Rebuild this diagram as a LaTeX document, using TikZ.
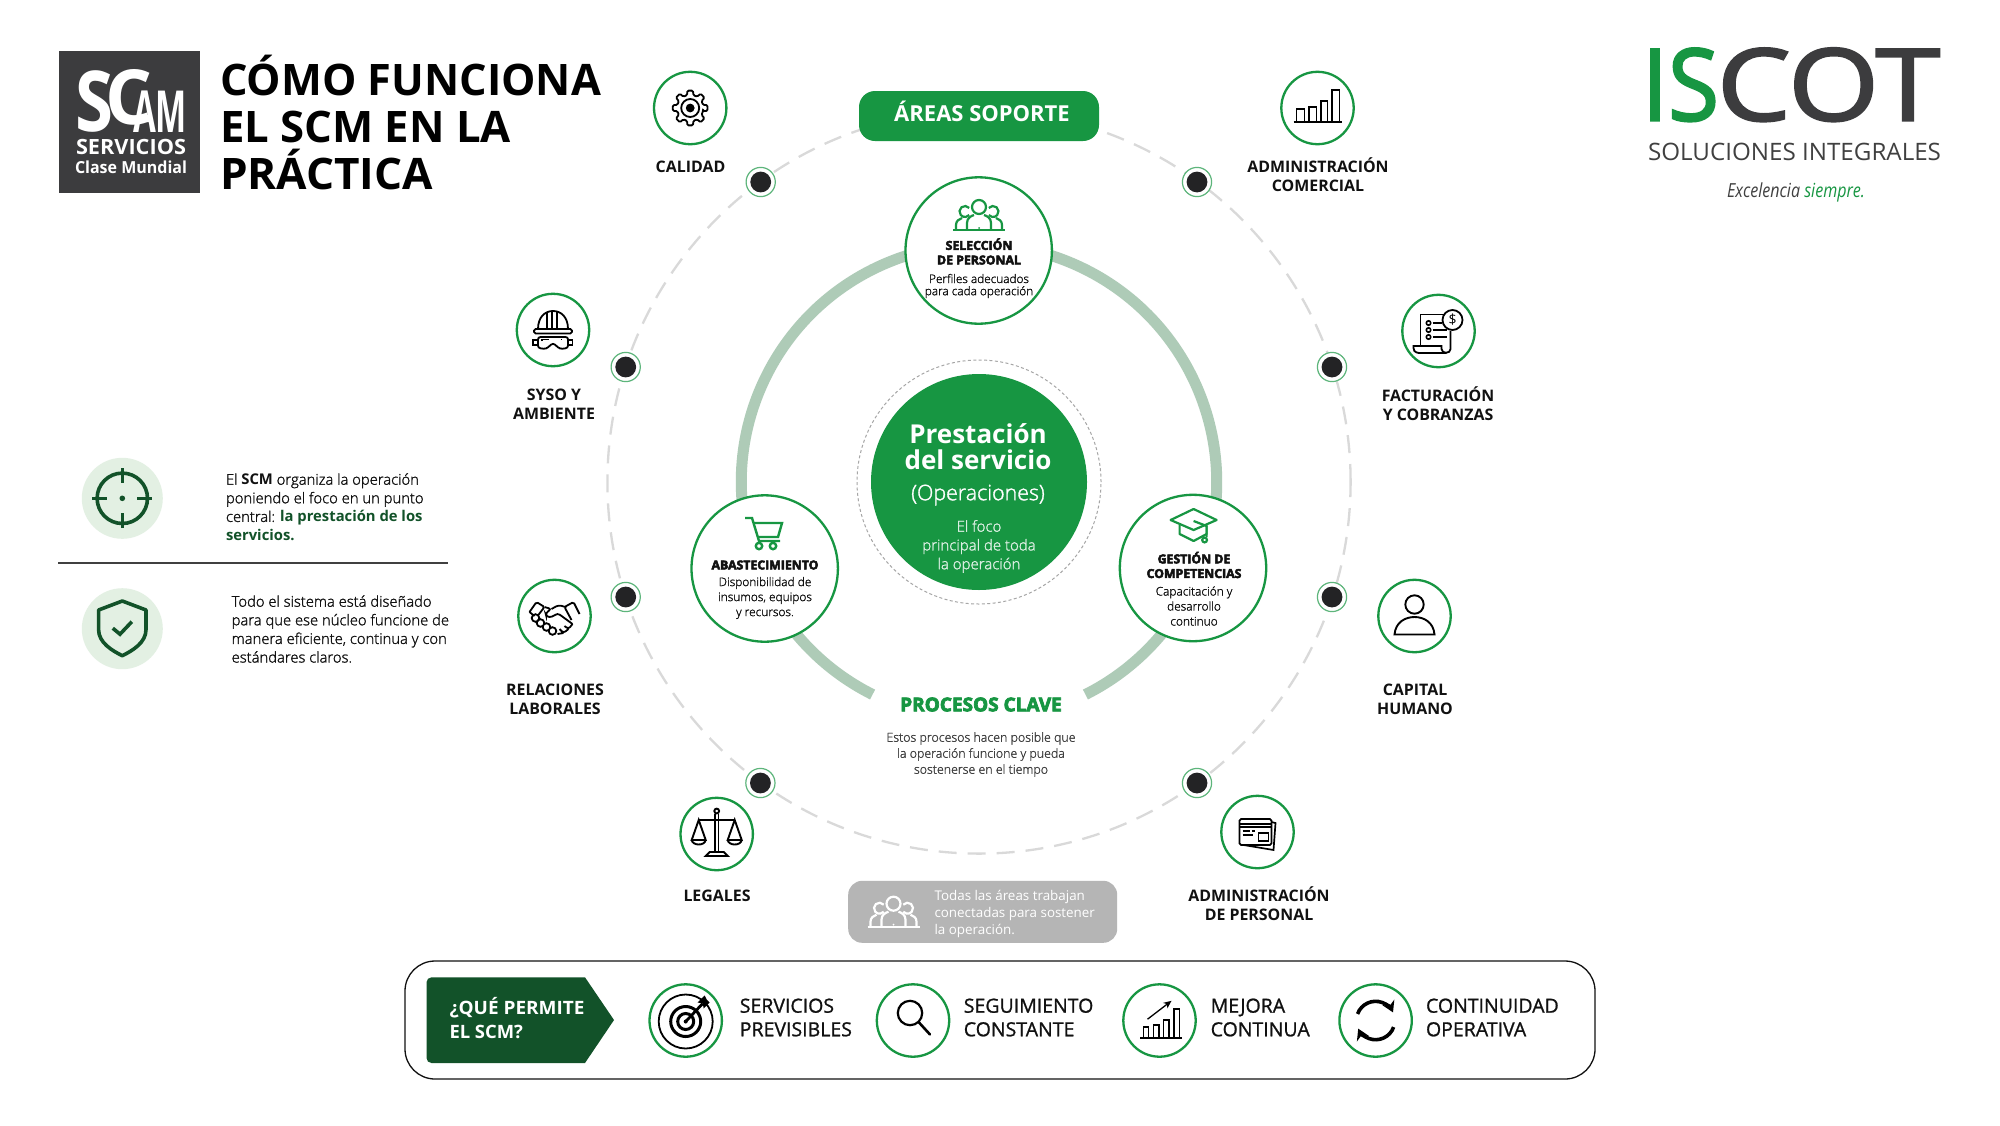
\documentclass[tikz,border=0pt]{standalone}
\usepackage{fontspec}
\setmainfont{Open Sans}
\newfontfamily\regf{Open Sans}
\newfontfamily\lightf{Open Sans Light}[UprightFeatures={FakeBold=1.5}]
\newfontfamily\heavyf{Open Sans}[UprightFont={* Bold},UprightFeatures={FakeBold=4}]
\newfontfamily\logof{Open Sans}[UprightFeatures={FakeBold=2.2}]
\newfontfamily\medf{Open Sans}[UprightFeatures={FakeBold=1}]
\usetikzlibrary{arrows.meta,calc}
\definecolor{G}{HTML}{179642}
\definecolor{DG}{HTML}{125229}
\definecolor{ring}{HTML}{AECBB7}
\definecolor{palebg}{HTML}{E3F0E3}
\definecolor{dashc}{HTML}{D9D9D9}
\definecolor{ink}{HTML}{111111}
\definecolor{soft}{HTML}{404040}
\definecolor{logobg}{HTML}{3C3C3E}
\definecolor{dotc}{HTML}{232325}
\newcommand\fz[2]{\fontsize{#1}{#2}\selectfont}
\newsavebox\fitbox
\newcommand\fitw[2]{\sbox\fitbox{#2}\pgfmathsetmacro\fitr{(#1*0.5pt)/\wd\fitbox}\scalebox{\fitr}[1]{\usebox\fitbox}}
\tikzset{
  lw/.style={line width=#1*0.5pt},
  txt/.style={inner sep=0pt,outer sep=0pt,align=center,text=ink},
  lab/.style={txt,font=\bfseries\fz{7.95}{9.6}},
  iconc/.style={circle,draw=G,lw=2.3,fill=white,minimum size=36.2pt,inner sep=0pt},
  proc/.style={circle,draw=G,lw=2.3,fill=white,minimum size=73.2pt,inner sep=0pt},
  dotn/.style={circle,draw=G!70,lw=1.2,fill=white,minimum size=14.6pt,inner sep=0pt},
  core/.style={circle,fill=dotc,minimum size=10.4pt,inner sep=0pt},
  ptitle/.style={txt,font=\heavyf\fz{6.15}{7.3}},
  pbody/.style={txt,font=\lightf\fz{5.95}{7.5},text=ink},
  blab/.style={txt,align=left,anchor=west,font=\medf\fz{9.75}{11.8}},
  side/.style={txt,align=left,anchor=west,font=\lightf\fz{7.4}{9.3}},
  pics/people/.style={code={
    \draw[lw=2.2] (-26,15)--(26,15);
    \draw[lw=2.2] (0,-8) circle[radius=3.5pt];
    \draw[lw=2.2] (-14,-3.5) ++(40:2.75pt) arc[start angle=40,end angle=320,radius=2.75pt];
    \draw[lw=2.2] (14,-3.5) ++(140:2.75pt) arc[start angle=140,end angle=-140,radius=2.75pt];
    \draw[lw=2.2] (-23,15)--(-23,10) .. controls (-23,6) and (-20,4) .. (-17,3);
    \draw[lw=2.2] (23,15)--(23,10) .. controls (23,6) and (20,4) .. (17,3);
    \draw[lw=2.2] (-12,15)--(-12,8) .. controls (-12,3) and (-8,1) .. (-5,0);
    \draw[lw=2.2] (12,15)--(12,8) .. controls (12,3) and (8,1) .. (5,0);
    \fill (0,13) circle[radius=0.5pt];
  }},
  pics/gear/.style={code={
    \draw[lw=1.8,rounded corners=0.6pt] (-14:6.6pt)
      \foreach \a in {0,45,...,315}{ -- (\a-14:6.6pt) -- (\a-9:8.8pt) -- (\a+9:8.8pt) -- (\a+14:6.6pt)} -- cycle;
    \draw[lw=1.8] (0,0) circle[radius=4.5pt];
    \fill (0,0) circle[radius=2.2pt];
  }},
  pics/hat/.style={code={
    \draw[lw=1.8] (-15,-1) .. controls (-15,-13) and (-8,-19) .. (0,-19) .. controls (8,-19) and (15,-13) .. (15,-1);
    \draw[lw=1.8,rounded corners=0.8pt] (-19,-1) rectangle (19,3.5);
    \draw[lw=1.8] (-6,-1)--(-6,-18) (-1,-1)--(-1,-19) (4,-1)--(4,-19);
    \draw[lw=1.8,rounded corners=1.2pt] (-15,7)--(15,7)--(15,18)--(7,19)--(0,13)--(-7,19)--(-15,18)--cycle;
    \draw[lw=1.8] (-15,10)--(-20,10)--(-20,15)--(-15,15) (15,10)--(19.5,10)--(19.5,15)--(15,15);
    \draw[lw=1.4] (-11,11)--(-11,9.5)--(-4,9.5) (8,9.5)--(9,9.5);
  }},
  pics/shake/.style={code={
    \draw[lw=1.8,rounded corners=0.8pt] (-25,-4)--(-18,-14)--(-10,-9)--(-17,0);
    \draw[lw=1.8,rounded corners=0.8pt] (25,-2)--(19,-14)--(10,-9)--(17,4);
    \draw[lw=1.8,rounded corners=1.5pt] (-25,-4)--(-20,0);
    \draw[lw=1.8,rounded corners=1.5pt] (-10,-9)--(-3,-7)--(-9,-3)--(-8,1)--(-2,1)--(3,-3)--(18,8);
    \draw[lw=1.8,rounded corners=1.5pt] (-3,-7)--(4,-11)--(11,-9);
    \draw[lw=1.8,rounded corners=1.2pt] (18,8)--(14,13)--(10,10) (14,13)--(9,17)--(5,13) (9,17)--(3,18);
    \draw[lw=1.8] (-19,2) circle[radius=1.9pt] (-14,7) circle[radius=1.9pt] (-8,11) circle[radius=1.9pt] (-2,15) circle[radius=1.9pt];
  }},
  pics/barsa/.style={code={
    \draw[lw=1.7] (-24,14)--(24,14);
    \draw[lw=1.6] (-21,14)--(-21,1)--(-13,1)--(-13,14);
    \draw[lw=1.6] (-8.5,14)--(-8.5,-1)--(-1,-1)--(-1,14);
    \draw[lw=1.6] (3.4,14)--(3.4,-7)--(10,-7)--(10,14);
    \draw[lw=1.6] (14.6,14)--(14.6,-18)--(21.8,-18)--(21.8,14);
  }},
  pics/bill/.style={code={
    \draw[lw=1.8] (-18,14)--(-18,-16.5)--(5,-16.5);
    \draw[lw=1.8] (12,0)--(12,18) .. controls (12,23) and (3,23) .. (3,18) -- (3,15) -- (-25,15) -- (-25,17) .. controls (-25,22) and (-20,22) .. (-18,22) -- (8,22);
    \draw[lw=1.8] (14,-11) circle[radius=5pt];
    \node[inner sep=0pt,font=\fz{7}{7}] (dollar) at (14,-11) {\$};
    \draw[lw=1.6] (-10,-8) circle[radius=1.1pt] (-10,-1) circle[radius=1.1pt] (-10,6) circle[radius=1.1pt];
    \draw[lw=1.6] (-6,-8)--(3,-8) (-6,-1)--(8,-1) (-6,6)--(8,6);
  }},
  pics/person/.style={code={
    \draw[lw=1.9] (0,-11.5) circle[radius=4.6pt];
    \draw[lw=1.9] (-20,18.5) .. controls (-19,6) and (-9,1) .. (0,1) .. controls (9,1) and (19,6) .. (20,18.5) -- cycle;
  }},
  pics/scales/.style={code={
    \draw[lw=1.9] (0,-23) circle[radius=1.2pt];
    \draw[lw=1.9] (-1.8,-20)--(-1.8,18) (1.8,-20)--(1.8,18);
    \draw[lw=1.9] (-18,-14)--(18,-14);
    \draw[lw=1.9] (-18,-14)--(-25,6)--(-11,6)--cycle (18,-14)--(25,6)--(11,6)--cycle;
    \draw[lw=1.9] (-25,6) .. controls (-24,12) and (-12,12) .. (-11,6);
    \draw[lw=1.9] (25,6) .. controls (24,12) and (12,12) .. (11,6);
    \draw[lw=1.9] (-7,18)--(7,18)--(11,22)--(-11,22)--cycle;
  }},
  pics/card/.style={code={
    \draw[lw=1.7,rounded corners=0.8pt] (-18,-13) rectangle (14,13);
    \draw[lw=1.7] (-18,-8)--(14,-8) (-18,-5)--(14,-5);
    \draw[lw=1.7] (14,-10)--(18,-9)--(16,18)--(-14,13);
    \draw[lw=1.5] (-15,-1)--(-8,-1) (-6,-1)--(-3,-1) (-15,3)--(-5,3);
    \draw[lw=1.7] (1,1) rectangle (11,9);
  }},
  pics/cart/.style={code={
    \draw[lw=2.4] (-19,-15)--(-12,-15)--(-5,8)--(16,8);
    \draw[lw=2.4] (-11,-10)--(18,-10)--(14,4)--(-6,4);
    \draw[lw=2.4] (-5,13) circle[radius=1.6pt] (9,13) circle[radius=1.6pt];
  }},
  pics/capi/.style={code={
    \draw[lw=2.2,line join=round] (-23,-5)--(0,-16)--(23,-5)--(0,5)--cycle;
    \draw[lw=2.2,line join=round] (-14,0)--(-14,9)--(0,16)--(13,9)--(13,1);
    \draw[lw=2.2] (0,-4)--(13,1)--(13,12);
    \draw[lw=2.2] (11,15) circle[radius=1.2pt];
  }},
  pics/targetb/.style={code={
    \draw[lw=1.8] (0,1) circle[radius=13.5pt];
    \draw[lw=3] (0,1) circle[radius=7.5pt];
    \draw[lw=3] (0,1) circle[radius=4pt];
    \fill (0,1) circle[radius=1pt];
    \draw[lw=2.8] (0,1)--(17,-17);
    \fill (12,-18)--(17,-17)--(18,-12)--(24,-18)--(21,-21)--(19,-25)--cycle;
  }},
  pics/lens/.style={code={
    \draw[lw=2.2] (-3,-7.5) circle[radius=6.1pt];
    \draw[lw=2.6,line cap=round] (6,2)--(17,14);
  }},
  pics/barsb/.style={code={
    \draw[lw=1.7] (-19.4,17.7)--(22.5,17.7);
    \draw[lw=1.6] (-16,17.7)--(-16,6.7)--(-11,6.7)--(-11,17.7);
    \draw[lw=1.6] (-6,17.7)--(-6,4.3)--(-0.4,4.3)--(-0.4,17.7);
    \draw[lw=1.6] (4,17.7)--(4,-0.7)--(9.5,-0.7)--(9.5,17.7);
    \draw[lw=1.6] (14.5,17.7)--(14.5,-11.3)--(20,-11.3)--(20,17.7);
    \draw[lw=1.3,-{Stealth[length=4pt,width=3.5pt]}] (-12,-1.3)--(12,-19.7);
  }},
  pics/cycle/.style={code={
    \draw[lw=3.6,-{Stealth[length=5.5pt,width=6.5pt]}] (160:9.6pt) arc[start angle=160,end angle=25,radius=9.6pt];
    \draw[lw=3.6,-{Stealth[length=5.5pt,width=6.5pt]}] (340:9.6pt) arc[start angle=340,end angle=205,radius=9.6pt];
  }},
  pics/crosshair/.style={code={
    \draw[lw=3.6] (0,0) circle[radius=12.6pt];
    \draw[lw=3.6] (0,-30)--(0,-15) (0,15)--(0,30) (-30,0)--(-15,0) (15,0)--(30,0);
    \fill (0,0) circle[radius=1.4pt];
  }},
  pics/shield/.style={code={
    \draw[lw=3.6,line join=round] (0,-27.7)--(23.7,-18.7)--(23.7,1) .. controls (23.7,14) and (10,22) .. (0,27) .. controls (-10,22) and (-23.7,14) .. (-23.7,1)--(-23.7,-18.7)--cycle;
    \draw[lw=3.6] (-9.5,-0.5)--(-2.3,5.5)--(9.5,-7);
  }},
}
\begin{document}
\begin{tikzpicture}[x=0.5pt,y=-0.5pt]
\useasboundingbox (0,0) rectangle (2000,1125);
\fill[white] (0,0) rectangle (2000,1125);
% ---- logo SCM
\fill[logobg] (58.5,51) rectangle (200,193);
\node[txt,text=white,font=\bfseries\fz{42}{42},anchor=base] (logoS) at (95,131) {\fitw{38}{S}};
\node[txt,text=white,font=\bfseries\fz{38}{38},anchor=base] (logoC) at (129,124) {\fitw{47}{C}};
\node[txt,text=white,font=\bfseries\fz{29}{29},anchor=base] (logoA) at (160,132) {\fitw{54}{AM}};
\node[txt,text=white,font=\bfseries\fz{10.5}{10.5},anchor=base] (logoSv) at (131,154.5) {\fitw{110}{SERVICIOS}};
\node[txt,text=white,font=\bfseries\fz{8.3}{8.3},anchor=base] (logoCl) at (131,173) {\fitw{112}{Clase Mundial}};
% ---- title
\node[txt,anchor=base west,text=black,font=\bfseries\fz{21.7}{21.7}] (t1) at (220,95) {\fitw{381}{CÓMO FUNCIONA}};
\node[txt,anchor=base west,text=black,font=\bfseries\fz{21.7}{21.7}] (t2) at (220,142) {\fitw{291}{EL SCM EN LA}};
\node[txt,anchor=base west,text=black,font=\bfseries\fz{21.7}{21.7}] (t3) at (220,189) {\fitw{213}{PRÁCTICA}};
% ---- ISCOT logo
\node[txt,anchor=base west,text=G,font=\logof\fz{50}{50}] (isl) at (1642,120.5) {\fitw{77}{IS}};
\node[txt,anchor=base west,text=logobg,font=\logof\fz{50}{50}] (cot) at (1717,120.5) {\fitw{223}{COT}};
\node[txt,anchor=base west,text=soft,font=\fz{12}{12}] (sol) at (1648,160.5) {\fitw{293}{SOLUCIONES INTEGRALES}};
\node[txt,anchor=base west,text=soft,font=\regf\itshape\fz{9.7}{10}] (exc) at (1727,197) {\fitw{138}{Excelencia \textcolor{G}{siempre.}}};
% ---- left panel
\fill[palebg] (122.3,498.3) circle[radius=20.25pt];
\fill[palebg] (122.3,628.7) circle[radius=20.25pt];
\pic[color=DG] at (122.3,498.3) {crosshair};
\pic[color=DG] at (122.3,628.7) {shield};
\node[side] (st1) at (226,507) {El {\regf\bfseries SCM} organiza la operación\\poniendo el foco en un punto\\central: {\regf\bfseries\color{DG}la prestación de los}\\{\regf\bfseries\color{DG}servicios.}};
\draw[color=soft,lw=1.4] (58,563)--(448,563);
\node[side] (st2) at (231.7,629) {Todo el sistema está diseñado\\para que ese núcleo funcione de\\manera eficiente, continua y con\\estándares claros.};
% ---- dashed circle
\coordinate (C) at (979,482);
\draw[dashc,lw=2.3,dash pattern=on 9pt off 5.5pt] (C) circle[radius=185.8pt];
% ---- thick ring
\draw[ring,lw=11] (C) ++(243.4:118.85pt) arc[start angle=243.4,end angle=-63.4,radius=118.85pt];
% ---- center
\draw[gray!70,lw=1,dash pattern=on 1.5pt off 1.2pt] (979,482) circle[radius=61pt];
\node[circle,fill=G,minimum size=108pt,inner sep=0pt] (core) at (979,482) {};
\node[txt,text=white,font=\bfseries\fz{13}{13}] (serv) at (978,446.5) {Prestación\hspace{2pt}\\del servicio};
\node[txt,text=white,font=\lightf\fz{10.7}{11}] (oper) at (978,495) {(Operaciones)};
\node[txt,text=white!85!G,font=\lightf\fz{7.5}{9.4}] (foco) at (979,546.5) {El foco\\principal de toda\\la operación};
% ---- pill
\node[rounded corners=8pt,fill=G,minimum width=120pt,minimum height=25pt,inner sep=0pt] (pill) at (979,116) {};
\node[txt,text=white,font=\bfseries\fz{11}{11}] (pillt) at (982,111) {ÁREAS SOPORTE};
% ---- process circles
\node[proc] (p1) at (978.7,250.5) {};
\node[proc] (p2) at (764.7,568.5) {};
\node[proc] (p3) at (1193,568) {};
\pic[color=G] at (979,215) {people};
\pic[color=G] at (764,533) {cart};
\pic[color=G] at (1193.6,525) {capi};
\node[ptitle] (p1t) at (979,251.5) {SELECCIÓN\\DE PERSONAL};
\node[pbody,font=\lightf\fz{5.9}{6.1}] (p1b) at (979,286) {Perfiles adecuados\\para cada operación};
\node[ptitle] (p2t) at (765,565) {ABASTECIMIENTO};
\node[pbody] (p2b) at (765,598) {Disponibilidad de\\insumos, equipos\\y recursos.};
\node[ptitle] (p3t) at (1194,565) {GESTIÓN DE\\COMPETENCIAS};
\node[pbody] (p3b) at (1194,606) {Capacitación y\\desarrollo\\continuo};
\node[txt,text=G,font=\heavyf\fz{9.5}{9.5}] (pc) at (981,704.5) {PROCESOS CLAVE};
\node[txt,text=soft,font=\lightf\fz{6.2}{8}] (pct) at (981,754.5) {Estos procesos hacen posible que\\la operación funcione y pueda\\sostenerse en el tiempo};
% ---- dots
\foreach \n/\x/\y in {a/760.7/182,b/1197/182,c/625.7/367,d/1332/367,e/625.7/597,f/1332/597,g/760.4/783,h/1197/783}{
  \node[dotn] (d\n) at (\x,\y) {};
  \node[core] (k\n) at (d\n) {};
}
% ---- support icons
\node[iconc] (i1) at (690.2,108) {};
\node[iconc] (i2) at (1317.5,108) {};
\node[iconc] (i3) at (553,330) {};
\node[iconc] (i4) at (1438.5,331) {};
\node[iconc] (i5) at (554.5,616) {};
\node[iconc] (i6) at (1414.5,616) {};
\node[iconc] (i7) at (716.7,834) {};
\node[iconc] (i8) at (1257.5,832) {};
\pic at (i1) {gear};
\pic at (i2) {barsa};
\pic at (i3) {hat};
\pic at (i4) {bill};
\pic at (i5) {shake};
\pic at (i6) {person};
\pic at (i7) {scales};
\pic at (i8) {card};
\node[lab] (l1) at (690.5,166.5) {CALIDAD};
\node[lab] (l2) at (1318,175) {ADMINISTRACIÓN\\COMERCIAL};
\node[lab] (l3) at (554,404.5) {SYSO Y\\AMBIENTE};
\node[lab] (l4) at (1438,404) {FACTURACIÓN\\Y COBRANZAS};
\node[lab] (l5) at (555,699.5) {RELACIONES\\LABORALES};
\node[lab] (l6) at (1415,699.5) {CAPITAL\\HUMANO};
\node[lab] (l7) at (717,895.5) {LEGALES};
\node[lab] (l8) at (1259,904) {ADMINISTRACIÓN\\DE PERSONAL};
% ---- grey box
\node[rounded corners=7pt,fill=black!29,minimum width=134.5pt,minimum height=31pt,inner sep=0pt] (gb) at (982.7,911.8) {};
\pic[color=white] at (893.5,911.7) {people};
\node[txt,anchor=west,align=left,text=white,font=\regf\fz{6.7}{8.5}] (gbt) at (934.5,914) {Todas las áreas trabajan\\conectadas para sostener\\la operación.};
% ---- bottom band
\node[draw=ink,lw=1.3,rounded corners=15pt,minimum width=595pt,minimum height=59pt,inner sep=0pt] (band) at (1000,1020) {};
\fill[DG,rounded corners=2.5pt] (585,977.3)--(426.5,977.3)--(426.5,1063)[sharp corners]--(585,1063)--(614,1020)--cycle;
\node[txt,anchor=west,align=left,text=white,font=\bfseries\fz{9.2}{12}] (qp) at (449.5,1018) {\fitw{135}{¿QUÉ PERMITE}\\EL SCM?};
\node[iconc] (b1) at (685.7,1020.5) {};
\node[iconc] (b2) at (913,1020.5) {};
\node[iconc] (b3) at (1159.5,1020.5) {};
\node[iconc] (b4) at (1375.6,1020.5) {};
\pic at (b1) {targetb};
\pic at (b2) {lens};
\pic at (b3) {barsb};
\pic at (b4) {cycle};
\node[blab] (bl1) at (739.8,1017.5) {SERVICIOS\\PREVISIBLES};
\node[blab] (bl2) at (963.8,1017.5) {SEGUIMIENTO\\CONSTANTE};
\node[blab] (bl3) at (1210.7,1017.5) {MEJORA\\CONTINUA};
\node[blab] (bl4) at (1426,1017.5) {CONTINUIDAD\\OPERATIVA};
\end{tikzpicture}
\end{document}
